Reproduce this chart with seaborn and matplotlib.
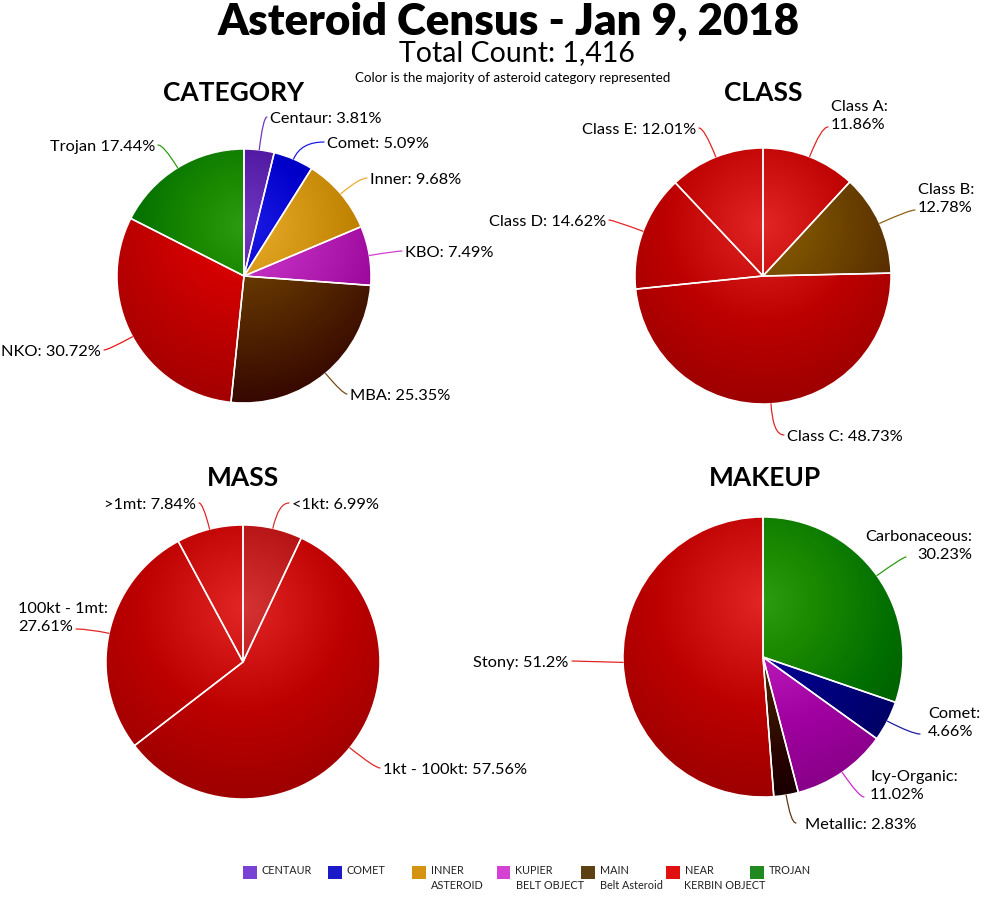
import numpy as np
import matplotlib
matplotlib.use("Agg")
import matplotlib.pyplot as plt
import matplotlib.colors as mcolors
from matplotlib.patches import Rectangle
import seaborn as sns

W, H = 1000, 900

# ---- data ----
CATEGORY_LABELS = ["Centaur", "Comet", "Inner", "KBO", "MBA", "NKO", "Trojan"]
CATEGORY_VALUES = [3.81, 5.09, 9.68, 7.49, 25.35, 30.72, 17.44]

CLASS_LABELS = ["Class A", "Class B", "Class C", "Class D", "Class E"]
CLASS_VALUES = [11.86, 12.78, 48.73, 14.62, 12.01]

MASS_LABELS = ["<1kt", "1kt - 100kt", "100kt - 1mt", ">1mt"]
MASS_VALUES = [6.99, 57.56, 27.61, 7.84]

MAKEUP_LABELS = ["Carbonaceous", "Comet", "Icy-Organic", "Metallic", "Stony"]
MAKEUP_VALUES = [30.23, 4.66, 11.02, 2.83, 51.2]

LEGEND_LABELS = ["CENTAUR", "COMET", "INNER\nASTEROID", "KUPIER\nBELT OBJECT",
                 "MAIN\nBelt Asteroid", "NEAR\nKERBIN OBJECT", "TROJAN"]

# ---- colours ----
C_CENTAUR = "#7038c0"
C_COMET = "#1c1ce6"
C_INNER = "#eaae2c"
C_KBO = "#d23ed2"
C_MBA = "#7a4c16"
C_NKO = "#e81616"
C_TROJAN = "#2e9c12"
C_RED = "#e22626"
C_CLASSB = "#8c6212"
C_NAVY = "#1c1ca4"
C_ICY = "#cc2ccc"
C_METAL = "#5e3a18"

CATEGORY_COLORS = [C_CENTAUR, C_COMET, C_INNER, C_KBO, C_MBA, C_NKO, C_TROJAN]
CLASS_COLORS = [C_RED, C_CLASSB, C_RED, C_RED, C_RED]
MASS_COLORS = ["#d63434", C_RED, C_RED, C_RED]
MAKEUP_COLORS = [C_TROJAN, C_NAVY, C_ICY, C_METAL, C_RED]
LEGEND_COLORS = ["#7a42d4", "#1a1ac8", "#d49412", "#d442d4", "#5c4212", "#e01010", "#208a20"]

# ---- layout (pixels) ----
PIES = [
    ("CATEGORY", (233, 93), (244, 276), 127, CATEGORY_LABELS, CATEGORY_VALUES, CATEGORY_COLORS),
    ("CLASS", (763, 93), (763, 276), 128, CLASS_LABELS, CLASS_VALUES, CLASS_COLORS),
    ("MASS", (243, 478), (243, 662), 137, MASS_LABELS, MASS_VALUES, MASS_COLORS),
    ("MAKEUP", (765, 478), (763, 657), 140, MAKEUP_LABELS, MAKEUP_VALUES, MAKEUP_COLORS),
]

# per label: separator, connector end (px), text x (px), alignment
LABEL_LAYOUT = {
    "CATEGORY": [(": ", (267, 117), 270, "left"), (": ", (324, 142), 327, "left"),
                 (": ", (367, 178), 370, "left"), (": ", (402, 251), 405, "left"),
                 (": ", (347, 394), 350, "left"), (": ", (104, 350), 101, "right"),
                 (" ", (158, 145), 155, "right")],
    "CLASS": [(":\n", (828, 127), 831, "left"), (":\n", (915, 210), 918, "left"),
              (": ", (784, 435), 787, "left"), (": ", (609, 220), 606, "right"),
              (": ", (699, 128), 696, "right")],
    "MASS": [(": ", (289, 503), 292, "left"), (": ", (380, 768), 383, "left"),
             (":\n", (76, 629), 18, "left"), (": ", (199, 503), 196, "right")],
    "MAKEUP": [(":\n", (906, 557), 972, "right"), (":\n", (920, 734), 928, "left"),
               (":\n", (864, 797), 870, "left"), (": ", (796, 823), 805, "left"),
               (": ", (572, 661), 568, "right")],
}

sns.set_theme(style="white")
plt.rcParams["font.family"] = ["Lato", "DejaVu Sans"]
plt.rcParams["text.color"] = "black"

fig = plt.figure(figsize=(W / 100, H / 100), dpi=100)
fig.patch.set_facecolor("white")


def shade_wedges(ax, wedges, colors):
    # radial gradient: base colour at the middle, darker toward the rim
    n = 400
    xs = np.linspace(-1, 1, n)
    X, Y = np.meshgrid(xs, xs[::-1])
    t = np.clip(np.hypot(X, Y - 0.4) / 1.4, 0, 1)
    for w, c in zip(wedges, colors):
        rgb = np.array(mcolors.to_rgb(c))
        img = np.clip(rgb[None, None, :] - 0.27 * t[..., None], 0, 1)
        im = ax.imshow(img, extent=(-1, 1, -1, 1), zorder=2, interpolation="bilinear")
        im.set_clip_path(w)


M = 1.04
for title, tpos, (cx, cy), r, labels, values, colors in PIES:
    ax = fig.add_axes([(cx - r * M) / W, (H - cy - r * M) / H, 2 * r * M / W, 2 * r * M / H])
    wedges, _ = ax.pie(values, colors=colors, startangle=90, counterclock=False,
                       radius=1, wedgeprops=dict(linewidth=0, zorder=1))
    shade_wedges(ax, wedges, colors)
    ax.pie(values, startangle=90, counterclock=False, radius=1,
           wedgeprops=dict(fill=False, edgecolor="white", linewidth=1.1, zorder=3))
    ax.set_xlim(-M, M)
    ax.set_ylim(-M, M)
    ax.set_aspect("equal")
    ax.axis("off")

    fig.text(tpos[0] / W, 1 - tpos[1] / H, title, ha="center", va="center",
             fontsize=19, fontweight="bold", color="black")

    for w, name, val, col, (sep, (ex, ey), tx, ha) in zip(
            wedges, labels, values, colors, LABEL_LAYOUT[title]):
        theta = (w.theta1 + w.theta2) / 2
        edge = (np.cos(np.radians(theta)), np.sin(np.radians(theta)))
        if abs(np.sin(np.radians(theta))) < 0.15:
            cs = "arc3,rad=0"
        else:
            cs = f"angle3,angleA=0,angleB={theta}"
        ax.annotate("", xy=edge, xycoords="data", xytext=(ex, H - ey),
                    textcoords="figure pixels", annotation_clip=False,
                    arrowprops=dict(arrowstyle="-", color=col, lw=0.9,
                                    connectionstyle=cs, shrinkA=0, shrinkB=0))
        text = f"{name}{sep}{val:g}%"
        ty = ey + 2
        if "\n" in sep:
            ty = ey - 11
        fig.text(tx / W, 1 - ty / H, text, ha=ha, va="center", multialignment=ha,
                 fontsize=11.8, linespacing=1.45, color="black")

# ---- headings ----
fig.text(509 / W, 1 - 21 / H, "Asteroid Census - Jan 9, 2018", ha="center", va="center",
         fontsize=31.5, fontweight="heavy", color="black")
fig.text(517 / W, 1 - 53 / H, "Total Count: 1,416", ha="center", va="center",
         fontsize=20.5, color="black")
fig.text(513 / W, 1 - 78 / H, "Color is the majority of asteroid category represented",
         ha="center", va="center", fontsize=9.6, color="black")

# ---- legend ----
for i, (lab, col) in enumerate(zip(LEGEND_LABELS, LEGEND_COLORS)):
    x0 = 243 + i * 84.5
    fig.patches.append(Rectangle((x0 / W, 1 - 879 / H), 14 / W, 13 / H,
                                 transform=fig.transFigure, facecolor=col,
                                 edgecolor="none"))
    fig.text((x0 + 19) / W, 1 - 865 / H, lab, ha="left", va="top", fontsize=7.8,
             linespacing=1.4, color="#222222")

fig.savefig("out.png", dpi=100, facecolor="white")
